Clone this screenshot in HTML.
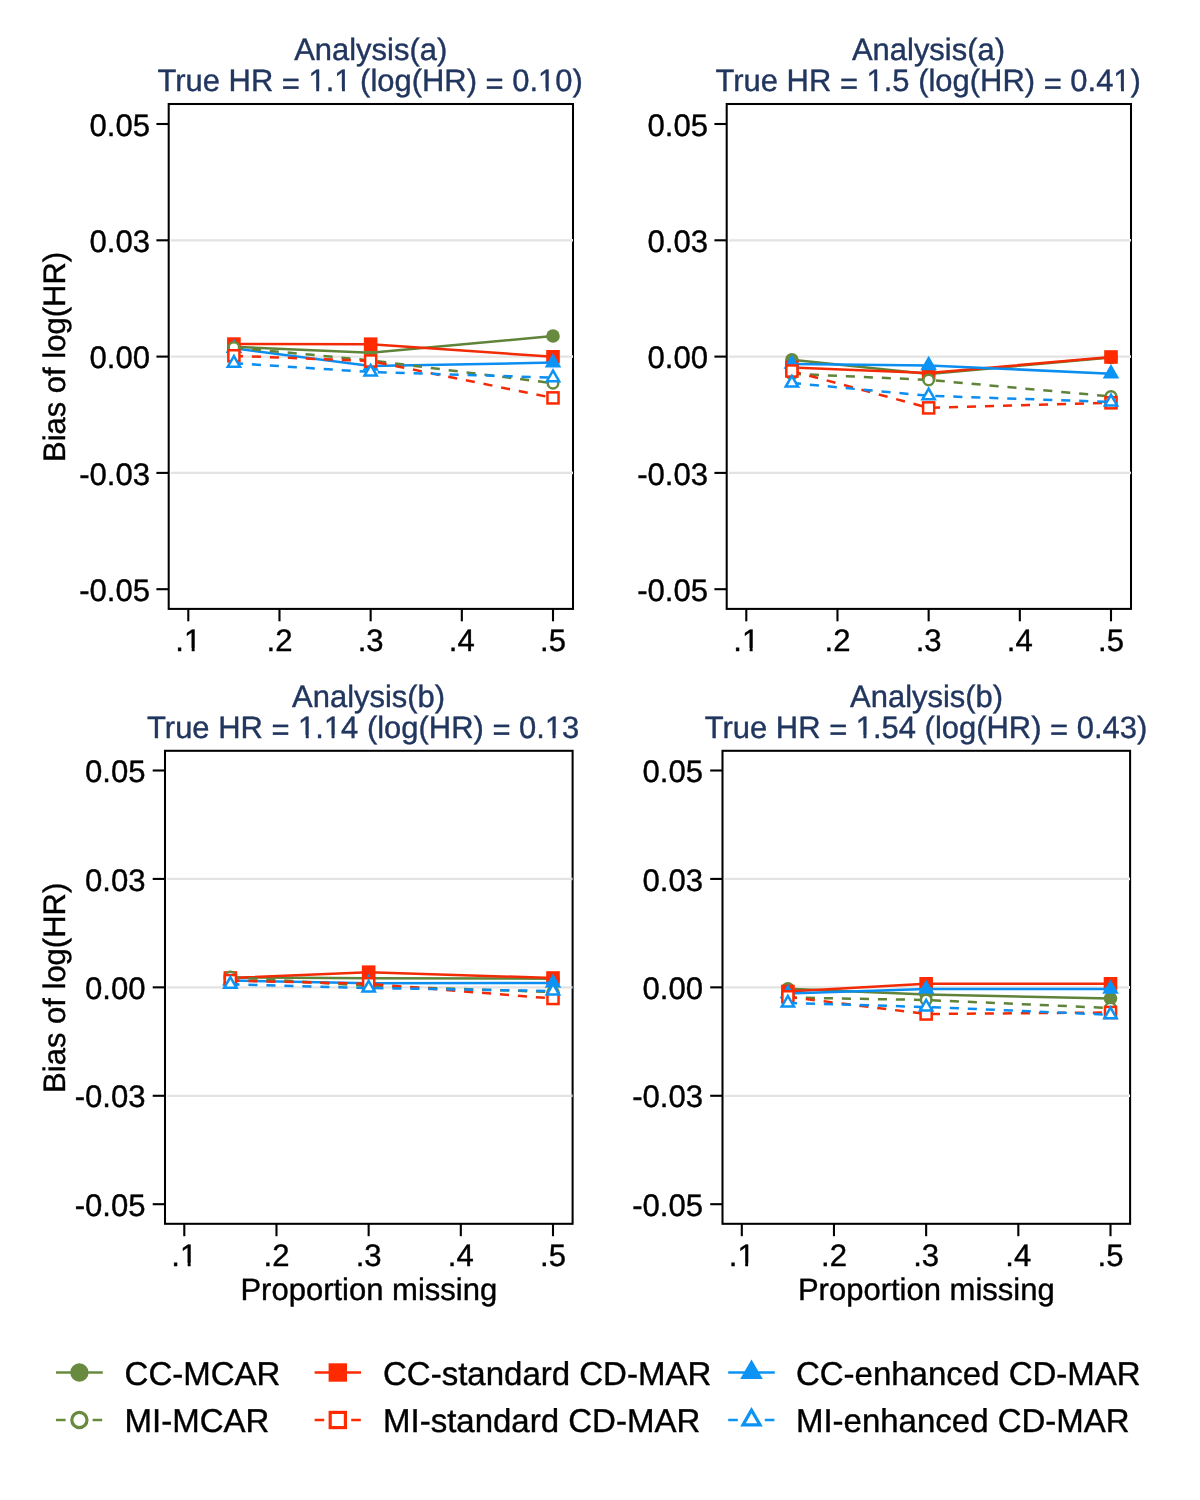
<!DOCTYPE html>
<html><head><meta charset="utf-8"><title>Bias of log(HR) by proportion missing</title>
<style>
html,body{margin:0;padding:0;background:#fff;}
body{width:1200px;height:1500px;overflow:hidden;}
svg{display:block;font-family:"Liberation Sans", sans-serif;fill:#000;will-change:transform;}
svg text{font-family:"Liberation Sans", sans-serif;text-rendering:geometricPrecision;stroke:#000;stroke-width:0.4px;}
svg text.t{fill:#21365f;stroke:#21365f;}
</style></head><body>
<svg width="1200" height="1500" viewBox="0 0 1200 1500">
<rect width="1200" height="1500" fill="#fff"/>
<g><line x1="170.9" y1="240.3" x2="571.8" y2="240.3" stroke="#e3e3e3" stroke-width="2.2"/><line x1="170.9" y1="356.6" x2="571.8" y2="356.6" stroke="#e3e3e3" stroke-width="2.2"/><line x1="170.9" y1="472.9" x2="571.8" y2="472.9" stroke="#e3e3e3" stroke-width="2.2"/><polyline points="233.89,346.8 370.65,352.8 553,336" fill="none" stroke="#5f8339" stroke-width="2.5"/><circle cx="233.89" cy="346.8" r="6.8" fill="#678a3e"/><circle cx="370.65" cy="352.8" r="6.8" fill="#678a3e"/><circle cx="553" cy="336" r="6.8" fill="#678a3e"/><polyline points="233.89,344.1 370.65,344.2 553,356.8" fill="none" stroke="#f22a06" stroke-width="2.5"/><rect x="227.09" y="337.3" width="13.6" height="13.6" fill="#ff2a00"/><rect x="363.85" y="337.4" width="13.6" height="13.6" fill="#ff2a00"/><rect x="546.2" y="350" width="13.6" height="13.6" fill="#ff2a00"/><polyline points="233.89,348.3 370.65,366 553,362.6" fill="none" stroke="#0b8ef0" stroke-width="2.5"/><polygon points="233.89,338.72 225.59,353.09 242.19,353.09" fill="#0b93f5"/><polygon points="370.65,356.42 362.35,370.79 378.95,370.79" fill="#0b93f5"/><polygon points="553,353.02 544.7,367.39 561.3,367.39" fill="#0b93f5"/><polyline points="233.89,347.5 370.65,360.4 553,383.2" fill="none" stroke="#5f8339" stroke-width="2.5" stroke-dasharray="9.1 8.9"/><circle cx="233.89" cy="347.5" r="5.25" fill="#fff" stroke="#678a3e" stroke-width="2.5"/><circle cx="370.65" cy="360.4" r="5.25" fill="#fff" stroke="#678a3e" stroke-width="2.5"/><circle cx="553" cy="383.2" r="5.25" fill="#fff" stroke="#678a3e" stroke-width="2.5"/><polyline points="233.89,355.8 370.65,361 553,397.9" fill="none" stroke="#f22a06" stroke-width="2.5" stroke-dasharray="9.1 8.9"/><rect x="228.34" y="350.25" width="11.1" height="11.1" fill="#fff" stroke="#ff2a00" stroke-width="2.5"/><rect x="365.1" y="355.45" width="11.1" height="11.1" fill="#fff" stroke="#ff2a00" stroke-width="2.5"/><rect x="547.45" y="392.35" width="11.1" height="11.1" fill="#fff" stroke="#ff2a00" stroke-width="2.5"/><polyline points="233.89,363.2 370.65,372 553,377.6" fill="none" stroke="#0b8ef0" stroke-width="2.5" stroke-dasharray="9.1 8.9"/><polygon points="233.89,356.12 227.75,366.74 240.02,366.74" fill="#fff" stroke="#0b93f5" stroke-width="2.5" stroke-linejoin="miter"/><polygon points="370.65,364.92 364.52,375.54 376.78,375.54" fill="#fff" stroke="#0b93f5" stroke-width="2.5" stroke-linejoin="miter"/><polygon points="553,370.52 546.87,381.14 559.13,381.14" fill="#fff" stroke="#0b93f5" stroke-width="2.5" stroke-linejoin="miter"/><rect x="168.7" y="104" width="404.3" height="504.9" fill="none" stroke="#000" stroke-width="2.05"/><rect x="571.8" y="239" width="1.1" height="2.6" fill="#fff"/><rect x="571.8" y="355.3" width="1.1" height="2.6" fill="#fff"/><rect x="571.8" y="471.6" width="1.1" height="2.6" fill="#fff"/><line x1="156.4" y1="124" x2="168.7" y2="124" stroke="#000" stroke-width="2.1"/><text x="150.1" y="135.6" text-anchor="end" font-size="31.1">0.05</text><line x1="156.4" y1="240.3" x2="168.7" y2="240.3" stroke="#000" stroke-width="2.1"/><text x="150.1" y="251.9" text-anchor="end" font-size="31.1">0.03</text><line x1="156.4" y1="356.6" x2="168.7" y2="356.6" stroke="#000" stroke-width="2.1"/><text x="150.1" y="368.2" text-anchor="end" font-size="31.1">0.00</text><line x1="156.4" y1="472.9" x2="168.7" y2="472.9" stroke="#000" stroke-width="2.1"/><text x="150.1" y="484.5" text-anchor="end" font-size="31.1">-0.03</text><line x1="156.4" y1="589.2" x2="168.7" y2="589.2" stroke="#000" stroke-width="2.1"/><text x="150.1" y="600.8" text-anchor="end" font-size="31.1">-0.05</text><line x1="188.3" y1="608.9" x2="188.3" y2="621.3" stroke="#000" stroke-width="2.1"/><text x="188.3" y="650.8" text-anchor="middle" font-size="31.1">.1</text><line x1="279.48" y1="608.9" x2="279.48" y2="621.3" stroke="#000" stroke-width="2.1"/><text x="279.48" y="650.8" text-anchor="middle" font-size="31.1">.2</text><line x1="370.65" y1="608.9" x2="370.65" y2="621.3" stroke="#000" stroke-width="2.1"/><text x="370.65" y="650.8" text-anchor="middle" font-size="31.1">.3</text><line x1="461.82" y1="608.9" x2="461.82" y2="621.3" stroke="#000" stroke-width="2.1"/><text x="461.82" y="650.8" text-anchor="middle" font-size="31.1">.4</text><line x1="553" y1="608.9" x2="553" y2="621.3" stroke="#000" stroke-width="2.1"/><text x="553" y="650.8" text-anchor="middle" font-size="31.1">.5</text><text class="t" x="370.7" y="60.4" text-anchor="middle" font-size="30.95">Analysis(a)</text><text class="t" x="370.15" y="91.4" text-anchor="middle" font-size="30.95">True HR <tspan dy="2.2">=</tspan><tspan dy="-2.2"> </tspan>1.1 (log(HR) <tspan dy="2.2">=</tspan><tspan dy="-2.2"> </tspan>0.10)</text><text transform="translate(65 356.95) rotate(-90)" text-anchor="middle" font-size="31">Bias of log(HR)</text></g>
<g><line x1="728.9" y1="240.3" x2="1129.8" y2="240.3" stroke="#e3e3e3" stroke-width="2.2"/><line x1="728.9" y1="356.6" x2="1129.8" y2="356.6" stroke="#e3e3e3" stroke-width="2.2"/><line x1="728.9" y1="472.9" x2="1129.8" y2="472.9" stroke="#e3e3e3" stroke-width="2.2"/><polyline points="791.89,359.8 928.65,374 1111,357.5" fill="none" stroke="#5f8339" stroke-width="2.5"/><circle cx="791.89" cy="359.8" r="6.8" fill="#678a3e"/><circle cx="928.65" cy="374" r="6.8" fill="#678a3e"/><circle cx="1111" cy="357.5" r="6.8" fill="#678a3e"/><polyline points="791.89,367.5 928.65,373 1111,357" fill="none" stroke="#f22a06" stroke-width="2.5"/><rect x="785.09" y="360.7" width="13.6" height="13.6" fill="#ff2a00"/><rect x="921.85" y="366.2" width="13.6" height="13.6" fill="#ff2a00"/><rect x="1104.2" y="350.2" width="13.6" height="13.6" fill="#ff2a00"/><polyline points="791.89,364 928.65,365.4 1111,373.7" fill="none" stroke="#0b8ef0" stroke-width="2.5"/><polygon points="791.89,354.42 783.59,368.79 800.19,368.79" fill="#0b93f5"/><polygon points="928.65,355.82 920.35,370.19 936.95,370.19" fill="#0b93f5"/><polygon points="1111,364.12 1102.7,378.49 1119.3,378.49" fill="#0b93f5"/><polyline points="791.89,373.8 928.65,379.9 1111,396.4" fill="none" stroke="#5f8339" stroke-width="2.5" stroke-dasharray="9.1 8.9"/><circle cx="791.89" cy="373.8" r="5.25" fill="#fff" stroke="#678a3e" stroke-width="2.5"/><circle cx="928.65" cy="379.9" r="5.25" fill="#fff" stroke="#678a3e" stroke-width="2.5"/><circle cx="1111" cy="396.4" r="5.25" fill="#fff" stroke="#678a3e" stroke-width="2.5"/><polyline points="791.89,371 928.65,407.9 1111,402.8" fill="none" stroke="#f22a06" stroke-width="2.5" stroke-dasharray="9.1 8.9"/><rect x="786.34" y="365.45" width="11.1" height="11.1" fill="#fff" stroke="#ff2a00" stroke-width="2.5"/><rect x="923.1" y="402.35" width="11.1" height="11.1" fill="#fff" stroke="#ff2a00" stroke-width="2.5"/><rect x="1105.45" y="397.25" width="11.1" height="11.1" fill="#fff" stroke="#ff2a00" stroke-width="2.5"/><polyline points="791.89,383 928.65,395.8 1111,401.9" fill="none" stroke="#0b8ef0" stroke-width="2.5" stroke-dasharray="9.1 8.9"/><polygon points="791.89,375.92 785.75,386.54 798.02,386.54" fill="#fff" stroke="#0b93f5" stroke-width="2.5" stroke-linejoin="miter"/><polygon points="928.65,388.72 922.52,399.34 934.78,399.34" fill="#fff" stroke="#0b93f5" stroke-width="2.5" stroke-linejoin="miter"/><polygon points="1111,394.82 1104.87,405.44 1117.13,405.44" fill="#fff" stroke="#0b93f5" stroke-width="2.5" stroke-linejoin="miter"/><rect x="726.7" y="104" width="404.3" height="504.9" fill="none" stroke="#000" stroke-width="2.05"/><rect x="1129.8" y="239" width="1.1" height="2.6" fill="#fff"/><rect x="1129.8" y="355.3" width="1.1" height="2.6" fill="#fff"/><rect x="1129.8" y="471.6" width="1.1" height="2.6" fill="#fff"/><line x1="714.4" y1="124" x2="726.7" y2="124" stroke="#000" stroke-width="2.1"/><text x="708.1" y="135.6" text-anchor="end" font-size="31.1">0.05</text><line x1="714.4" y1="240.3" x2="726.7" y2="240.3" stroke="#000" stroke-width="2.1"/><text x="708.1" y="251.9" text-anchor="end" font-size="31.1">0.03</text><line x1="714.4" y1="356.6" x2="726.7" y2="356.6" stroke="#000" stroke-width="2.1"/><text x="708.1" y="368.2" text-anchor="end" font-size="31.1">0.00</text><line x1="714.4" y1="472.9" x2="726.7" y2="472.9" stroke="#000" stroke-width="2.1"/><text x="708.1" y="484.5" text-anchor="end" font-size="31.1">-0.03</text><line x1="714.4" y1="589.2" x2="726.7" y2="589.2" stroke="#000" stroke-width="2.1"/><text x="708.1" y="600.8" text-anchor="end" font-size="31.1">-0.05</text><line x1="746.3" y1="608.9" x2="746.3" y2="621.3" stroke="#000" stroke-width="2.1"/><text x="746.3" y="650.8" text-anchor="middle" font-size="31.1">.1</text><line x1="837.47" y1="608.9" x2="837.47" y2="621.3" stroke="#000" stroke-width="2.1"/><text x="837.47" y="650.8" text-anchor="middle" font-size="31.1">.2</text><line x1="928.65" y1="608.9" x2="928.65" y2="621.3" stroke="#000" stroke-width="2.1"/><text x="928.65" y="650.8" text-anchor="middle" font-size="31.1">.3</text><line x1="1019.82" y1="608.9" x2="1019.82" y2="621.3" stroke="#000" stroke-width="2.1"/><text x="1019.82" y="650.8" text-anchor="middle" font-size="31.1">.4</text><line x1="1111" y1="608.9" x2="1111" y2="621.3" stroke="#000" stroke-width="2.1"/><text x="1111" y="650.8" text-anchor="middle" font-size="31.1">.5</text><text class="t" x="928.5" y="60.4" text-anchor="middle" font-size="30.95">Analysis(a)</text><text class="t" x="928.2" y="91.4" text-anchor="middle" font-size="30.95">True HR <tspan dy="2.2">=</tspan><tspan dy="-2.2"> </tspan>1.5 (log(HR) <tspan dy="2.2">=</tspan><tspan dy="-2.2"> </tspan>0.41)</text></g>
<g><line x1="167.2" y1="878.92" x2="571.4" y2="878.92" stroke="#e3e3e3" stroke-width="2.2"/><line x1="167.2" y1="987.35" x2="571.4" y2="987.35" stroke="#e3e3e3" stroke-width="2.2"/><line x1="167.2" y1="1095.78" x2="571.4" y2="1095.78" stroke="#e3e3e3" stroke-width="2.2"/><polyline points="230.39,977.5 368.65,978.2 553,978.7" fill="none" stroke="#5f8339" stroke-width="2.5"/><circle cx="230.39" cy="977.5" r="6.8" fill="#678a3e"/><circle cx="368.65" cy="978.2" r="6.8" fill="#678a3e"/><circle cx="553" cy="978.7" r="6.8" fill="#678a3e"/><polyline points="230.39,978 368.65,972.2 553,978" fill="none" stroke="#f22a06" stroke-width="2.5"/><rect x="223.59" y="971.2" width="13.6" height="13.6" fill="#ff2a00"/><rect x="361.85" y="965.4" width="13.6" height="13.6" fill="#ff2a00"/><rect x="546.2" y="971.2" width="13.6" height="13.6" fill="#ff2a00"/><polyline points="230.39,980.6 368.65,983.3 553,983" fill="none" stroke="#0b8ef0" stroke-width="2.5"/><polygon points="230.39,971.02 222.09,985.39 238.69,985.39" fill="#0b93f5"/><polygon points="368.65,973.72 360.35,988.09 376.95,988.09" fill="#0b93f5"/><polygon points="553,973.42 544.7,987.79 561.3,987.79" fill="#0b93f5"/><polyline points="230.39,977 368.65,986 553,992" fill="none" stroke="#5f8339" stroke-width="2.5" stroke-dasharray="9.1 8.9"/><circle cx="230.39" cy="977" r="5.25" fill="#fff" stroke="#678a3e" stroke-width="2.5"/><circle cx="368.65" cy="986" r="5.25" fill="#fff" stroke="#678a3e" stroke-width="2.5"/><circle cx="553" cy="992" r="5.25" fill="#fff" stroke="#678a3e" stroke-width="2.5"/><polyline points="230.39,980.6 368.65,983.8 553,998.5" fill="none" stroke="#f22a06" stroke-width="2.5" stroke-dasharray="9.1 8.9"/><rect x="224.84" y="975.05" width="11.1" height="11.1" fill="#fff" stroke="#ff2a00" stroke-width="2.5"/><rect x="363.1" y="978.25" width="11.1" height="11.1" fill="#fff" stroke="#ff2a00" stroke-width="2.5"/><rect x="547.45" y="992.95" width="11.1" height="11.1" fill="#fff" stroke="#ff2a00" stroke-width="2.5"/><polyline points="230.39,984.3 368.65,988 553,991" fill="none" stroke="#0b8ef0" stroke-width="2.5" stroke-dasharray="9.1 8.9"/><polygon points="230.39,977.22 224.25,987.84 236.52,987.84" fill="#fff" stroke="#0b93f5" stroke-width="2.5" stroke-linejoin="miter"/><polygon points="368.65,980.92 362.52,991.54 374.78,991.54" fill="#fff" stroke="#0b93f5" stroke-width="2.5" stroke-linejoin="miter"/><polygon points="553,983.92 546.87,994.54 559.13,994.54" fill="#fff" stroke="#0b93f5" stroke-width="2.5" stroke-linejoin="miter"/><rect x="165" y="750.8" width="407.6" height="473" fill="none" stroke="#000" stroke-width="2.05"/><rect x="571.4" y="877.62" width="1.1" height="2.6" fill="#fff"/><rect x="571.4" y="986.05" width="1.1" height="2.6" fill="#fff"/><rect x="571.4" y="1094.48" width="1.1" height="2.6" fill="#fff"/><line x1="152.7" y1="770.5" x2="165" y2="770.5" stroke="#000" stroke-width="2.1"/><text x="145.6" y="782.1" text-anchor="end" font-size="31.1">0.05</text><line x1="152.7" y1="878.92" x2="165" y2="878.92" stroke="#000" stroke-width="2.1"/><text x="145.6" y="890.52" text-anchor="end" font-size="31.1">0.03</text><line x1="152.7" y1="987.35" x2="165" y2="987.35" stroke="#000" stroke-width="2.1"/><text x="145.6" y="998.95" text-anchor="end" font-size="31.1">0.00</text><line x1="152.7" y1="1095.78" x2="165" y2="1095.78" stroke="#000" stroke-width="2.1"/><text x="145.6" y="1107.38" text-anchor="end" font-size="31.1">-0.03</text><line x1="152.7" y1="1204.2" x2="165" y2="1204.2" stroke="#000" stroke-width="2.1"/><text x="145.6" y="1215.8" text-anchor="end" font-size="31.1">-0.05</text><line x1="184.3" y1="1223.8" x2="184.3" y2="1236.2" stroke="#000" stroke-width="2.1"/><text x="184.3" y="1266.3" text-anchor="middle" font-size="31.1">.1</text><line x1="276.48" y1="1223.8" x2="276.48" y2="1236.2" stroke="#000" stroke-width="2.1"/><text x="276.48" y="1266.3" text-anchor="middle" font-size="31.1">.2</text><line x1="368.65" y1="1223.8" x2="368.65" y2="1236.2" stroke="#000" stroke-width="2.1"/><text x="368.65" y="1266.3" text-anchor="middle" font-size="31.1">.3</text><line x1="460.82" y1="1223.8" x2="460.82" y2="1236.2" stroke="#000" stroke-width="2.1"/><text x="460.82" y="1266.3" text-anchor="middle" font-size="31.1">.4</text><line x1="553" y1="1223.8" x2="553" y2="1236.2" stroke="#000" stroke-width="2.1"/><text x="553" y="1266.3" text-anchor="middle" font-size="31.1">.5</text><text class="t" x="368.6" y="706.9" text-anchor="middle" font-size="30.95">Analysis(b)</text><text class="t" x="363.2" y="738" text-anchor="middle" font-size="30.95">True HR <tspan dy="2.2">=</tspan><tspan dy="-2.2"> </tspan>1.14 (log(HR) <tspan dy="2.2">=</tspan><tspan dy="-2.2"> </tspan>0.13</text><text transform="translate(65 987.8) rotate(-90)" text-anchor="middle" font-size="31">Bias of log(HR)</text><text x="368.8" y="1300.3" text-anchor="middle" font-size="31">Proportion missing</text></g>
<g><line x1="724.7" y1="878.92" x2="1128.9" y2="878.92" stroke="#e3e3e3" stroke-width="2.2"/><line x1="724.7" y1="987.35" x2="1128.9" y2="987.35" stroke="#e3e3e3" stroke-width="2.2"/><line x1="724.7" y1="1095.78" x2="1128.9" y2="1095.78" stroke="#e3e3e3" stroke-width="2.2"/><polyline points="787.89,988.75 926.15,994.5 1110.5,998.5" fill="none" stroke="#5f8339" stroke-width="2.5"/><circle cx="787.89" cy="988.75" r="6.8" fill="#678a3e"/><circle cx="926.15" cy="994.5" r="6.8" fill="#678a3e"/><circle cx="1110.5" cy="998.5" r="6.8" fill="#678a3e"/><polyline points="787.89,991.5 926.15,983.8 1110.5,983.8" fill="none" stroke="#f22a06" stroke-width="2.5"/><rect x="781.09" y="984.7" width="13.6" height="13.6" fill="#ff2a00"/><rect x="919.35" y="977" width="13.6" height="13.6" fill="#ff2a00"/><rect x="1103.7" y="977" width="13.6" height="13.6" fill="#ff2a00"/><polyline points="787.89,993.5 926.15,989 1110.5,989" fill="none" stroke="#0b8ef0" stroke-width="2.5"/><polygon points="787.89,983.92 779.59,998.29 796.19,998.29" fill="#0b93f5"/><polygon points="926.15,979.42 917.85,993.79 934.45,993.79" fill="#0b93f5"/><polygon points="1110.5,979.42 1102.2,993.79 1118.8,993.79" fill="#0b93f5"/><polyline points="787.89,997.5 926.15,1000 1110.5,1008" fill="none" stroke="#5f8339" stroke-width="2.5" stroke-dasharray="9.1 8.9"/><circle cx="787.89" cy="997.5" r="5.25" fill="#fff" stroke="#678a3e" stroke-width="2.5"/><circle cx="926.15" cy="1000" r="5.25" fill="#fff" stroke="#678a3e" stroke-width="2.5"/><circle cx="1110.5" cy="1008" r="5.25" fill="#fff" stroke="#678a3e" stroke-width="2.5"/><polyline points="787.89,996.8 926.15,1014 1110.5,1012.5" fill="none" stroke="#f22a06" stroke-width="2.5" stroke-dasharray="9.1 8.9"/><rect x="782.34" y="991.25" width="11.1" height="11.1" fill="#fff" stroke="#ff2a00" stroke-width="2.5"/><rect x="920.6" y="1008.45" width="11.1" height="11.1" fill="#fff" stroke="#ff2a00" stroke-width="2.5"/><rect x="1104.95" y="1006.95" width="11.1" height="11.1" fill="#fff" stroke="#ff2a00" stroke-width="2.5"/><polyline points="787.89,1003 926.15,1007 1110.5,1014.7" fill="none" stroke="#0b8ef0" stroke-width="2.5" stroke-dasharray="9.1 8.9"/><polygon points="787.89,995.92 781.75,1006.54 794.02,1006.54" fill="#fff" stroke="#0b93f5" stroke-width="2.5" stroke-linejoin="miter"/><polygon points="926.15,999.92 920.02,1010.54 932.28,1010.54" fill="#fff" stroke="#0b93f5" stroke-width="2.5" stroke-linejoin="miter"/><polygon points="1110.5,1007.62 1104.37,1018.24 1116.63,1018.24" fill="#fff" stroke="#0b93f5" stroke-width="2.5" stroke-linejoin="miter"/><rect x="722.5" y="750.8" width="407.6" height="473" fill="none" stroke="#000" stroke-width="2.05"/><rect x="1128.9" y="877.62" width="1.1" height="2.6" fill="#fff"/><rect x="1128.9" y="986.05" width="1.1" height="2.6" fill="#fff"/><rect x="1128.9" y="1094.48" width="1.1" height="2.6" fill="#fff"/><line x1="710.2" y1="770.5" x2="722.5" y2="770.5" stroke="#000" stroke-width="2.1"/><text x="703.1" y="782.1" text-anchor="end" font-size="31.1">0.05</text><line x1="710.2" y1="878.92" x2="722.5" y2="878.92" stroke="#000" stroke-width="2.1"/><text x="703.1" y="890.52" text-anchor="end" font-size="31.1">0.03</text><line x1="710.2" y1="987.35" x2="722.5" y2="987.35" stroke="#000" stroke-width="2.1"/><text x="703.1" y="998.95" text-anchor="end" font-size="31.1">0.00</text><line x1="710.2" y1="1095.78" x2="722.5" y2="1095.78" stroke="#000" stroke-width="2.1"/><text x="703.1" y="1107.38" text-anchor="end" font-size="31.1">-0.03</text><line x1="710.2" y1="1204.2" x2="722.5" y2="1204.2" stroke="#000" stroke-width="2.1"/><text x="703.1" y="1215.8" text-anchor="end" font-size="31.1">-0.05</text><line x1="741.8" y1="1223.8" x2="741.8" y2="1236.2" stroke="#000" stroke-width="2.1"/><text x="741.8" y="1266.3" text-anchor="middle" font-size="31.1">.1</text><line x1="833.97" y1="1223.8" x2="833.97" y2="1236.2" stroke="#000" stroke-width="2.1"/><text x="833.97" y="1266.3" text-anchor="middle" font-size="31.1">.2</text><line x1="926.15" y1="1223.8" x2="926.15" y2="1236.2" stroke="#000" stroke-width="2.1"/><text x="926.15" y="1266.3" text-anchor="middle" font-size="31.1">.3</text><line x1="1018.32" y1="1223.8" x2="1018.32" y2="1236.2" stroke="#000" stroke-width="2.1"/><text x="1018.32" y="1266.3" text-anchor="middle" font-size="31.1">.4</text><line x1="1110.5" y1="1223.8" x2="1110.5" y2="1236.2" stroke="#000" stroke-width="2.1"/><text x="1110.5" y="1266.3" text-anchor="middle" font-size="31.1">.5</text><text class="t" x="926.6" y="706.9" text-anchor="middle" font-size="30.95">Analysis(b)</text><text class="t" x="926.05" y="738" text-anchor="middle" font-size="30.95">True HR <tspan dy="2.2">=</tspan><tspan dy="-2.2"> </tspan>1.54 (log(HR) <tspan dy="2.2">=</tspan><tspan dy="-2.2"> </tspan>0.43)</text><text x="926.3" y="1300.3" text-anchor="middle" font-size="31">Proportion missing</text></g>
<g><line x1="56" y1="1372.5" x2="102.8" y2="1372.5" stroke="#678a3e" stroke-width="2.4"/><circle cx="79.4" cy="1372.5" r="9.2" fill="#678a3e"/><text x="124.6" y="1385.2" font-size="33">CC-MCAR</text><line x1="56" y1="1420" x2="102.8" y2="1420" stroke="#678a3e" stroke-width="2.4" stroke-dasharray="9.6 8.7"/><circle cx="79.4" cy="1420" r="7.6" fill="#fff" stroke="#678a3e" stroke-width="3.2"/><text x="124.6" y="1432.3" font-size="33">MI-MCAR</text><line x1="314.6" y1="1372.5" x2="361" y2="1372.5" stroke="#ff2a00" stroke-width="2.4"/><rect x="328.6" y="1363.3" width="18.4" height="18.4" fill="#ff2a00"/><text x="383" y="1385.2" font-size="33">CC-standard CD-MAR</text><line x1="314.6" y1="1420" x2="361" y2="1420" stroke="#ff2a00" stroke-width="2.4" stroke-dasharray="9.6 8.7"/><rect x="330.2" y="1412.4" width="15.2" height="15.2" fill="#fff" stroke="#ff2a00" stroke-width="3.2"/><text x="383" y="1432.3" font-size="33">MI-standard CD-MAR</text><line x1="728.2" y1="1372.5" x2="774.8" y2="1372.5" stroke="#0b93f5" stroke-width="2.4"/><polygon points="751.5,1359.45 740.2,1379.02 762.8,1379.02" fill="#0b93f5"/><text x="795.9" y="1385.2" font-size="33">CC-enhanced CD-MAR</text><line x1="728.2" y1="1420" x2="774.8" y2="1420" stroke="#0b93f5" stroke-width="2.4" stroke-dasharray="9.6 8.7"/><polygon points="751.5,1410.15 742.97,1424.92 760.03,1424.92" fill="#fff" stroke="#0b93f5" stroke-width="3.2" stroke-linejoin="miter"/><text x="795.9" y="1432.3" font-size="33">MI-enhanced CD-MAR</text></g>
<g><rect x="185" y="648" width="6.68" height="4" fill="#fff"/><rect x="194.63" y="648" width="6.37" height="4" fill="#fff"/><rect x="310" y="88" width="6.2" height="4" fill="#fff"/><rect x="319.14" y="88" width="5.86" height="4" fill="#fff"/><rect x="336" y="88" width="6" height="4" fill="#fff"/><rect x="344.93" y="88" width="6.07" height="4" fill="#fff"/><rect x="539" y="88" width="6.76" height="4" fill="#fff"/><rect x="548.7" y="88" width="6.3" height="4" fill="#fff"/><rect x="743" y="648" width="6.68" height="4" fill="#fff"/><rect x="752.63" y="648" width="6.37" height="4" fill="#fff"/><rect x="868" y="88" width="6.25" height="4" fill="#fff"/><rect x="877.19" y="88" width="5.81" height="4" fill="#fff"/><rect x="1115" y="88" width="6.02" height="4" fill="#fff"/><rect x="1123.95" y="88" width="6.05" height="4" fill="#fff"/><rect x="181" y="1263" width="6.68" height="4" fill="#fff"/><rect x="190.63" y="1263" width="6.37" height="4" fill="#fff"/><rect x="299" y="735" width="6.8" height="4" fill="#fff"/><rect x="308.74" y="735" width="6.26" height="4" fill="#fff"/><rect x="325" y="735" width="6.6" height="4" fill="#fff"/><rect x="334.54" y="735" width="6.46" height="4" fill="#fff"/><rect x="546" y="735" width="6.57" height="4" fill="#fff"/><rect x="555.51" y="735" width="6.49" height="4" fill="#fff"/><rect x="739" y="1263" width="6.18" height="4" fill="#fff"/><rect x="748.13" y="1263" width="5.87" height="4" fill="#fff"/><rect x="857" y="735" width="6.5" height="4" fill="#fff"/><rect x="866.43" y="735" width="6.57" height="4" fill="#fff"/></g>
</svg>
</body></html>
